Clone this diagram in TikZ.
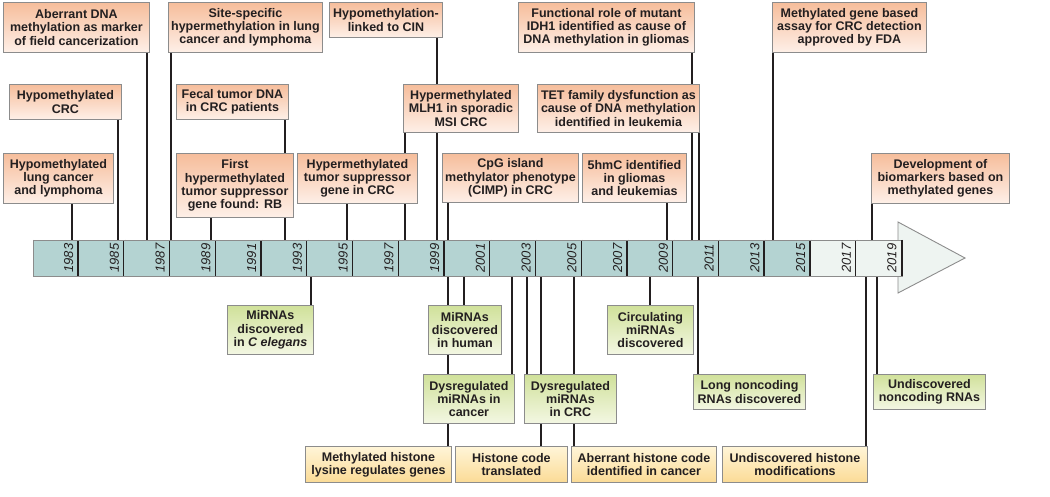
\documentclass[tikz,border=0pt]{standalone}
\usepackage{fontspec}
\setmainfont{Liberation Sans}
\usetikzlibrary{backgrounds}

\definecolor{boxline}{HTML}{8C8C8C}
\definecolor{orangetop}{HTML}{F6BD9B}
\definecolor{orangebot}{HTML}{FEF0E8}
\definecolor{greentop}{HTML}{D0E19A}
\definecolor{greenbot}{HTML}{F3F7E3}
\definecolor{yellowtop}{HTML}{FFF5D8}
\definecolor{yellowbot}{HTML}{FBDB96}
\definecolor{barteal}{HTML}{B4D3D2}
\definecolor{barlight}{HTML}{EEF4F1}
\definecolor{ink}{HTML}{231F20}

\tikzset{
  box/.style={draw=boxline, line width=0.9pt, anchor=north west, align=center, text=ink,
    inner xsep=1pt, inner ysep=1pt, font=\fontsize{12.5}{13.2}\selectfont\bfseries},
  topbox/.style={box, top color=orangetop, bottom color=orangebot},
  mirbox/.style={box, top color=greentop, bottom color=greenbot},
  histbox/.style={box, top color=yellowtop, bottom color=yellowbot},
  link/.style={line width=1.8pt, ink},
  yearlbl/.style={rotate=90, text=ink, font=\fontsize{13}{13}\selectfont\itshape, inner sep=0pt}
}

\begin{document}
\begin{tikzpicture}[x=1pt, y=-1pt]
	\useasboundingbox (0,0) rectangle (1050,497);
	% arrow head and bar
	\draw[boxline, fill=barlight, line width=0.9pt] (898,222) -- (965,258) -- (898,293) -- cycle;
	\node[draw=boxline, line width=0.9pt, minimum width=869pt, minimum height=36pt, anchor=north west, inner sep=0pt] (bar) at (33,240) {};
	\foreach \i in {0,...,18} {
	  \pgfmathsetmacro\xa{33+\i*45.737}
	  \pgfmathsetmacro\xb{33+(\i+1)*45.737}
	  \pgfmathtruncatemacro\yr{1983+2*\i}
	  \ifnum\i<17 \def\segcol{barteal}\else\def\segcol{barlight}\fi
	  \fill[\segcol] (\xa,240) rectangle (\xb,276);
	  \draw[line width=2.6pt, ink] (\xb,240) -- (\xb,276);
	  \node[yearlbl] (y\yr) at (\xb-10,258) {\yr};
	}
	\draw[boxline, line width=0.9pt] (33,240) -- (900.7,240) (33,276) -- (900.7,276) (33,240) -- (33,276);

	% events above the time line
	\node[topbox, minimum width=146pt, minimum height=50pt] (abr) at (3,2) {Aberrant DNA\\methylation as marker\\of field cancerization};
	\node[topbox, minimum width=112pt, minimum height=35pt] (hypocrc) at (9,84) {Hypomethylated\\CRC};
	\node[topbox, minimum width=110pt, minimum height=50pt] (hypolung) at (3,153) {Hypomethylated\\lung cancer\\and lymphoma};
	\node[topbox, minimum width=154pt, minimum height=50pt] (sitespec) at (168,2) {Site-specific\\hypermethylation in lung\\cancer and lymphoma};
	\node[topbox, minimum width=112pt, minimum height=35pt] (fecal) at (176,84) {Fecal tumor DNA\\in CRC patients};
	\node[topbox, minimum width=117pt, minimum height=64pt] (firstrb) at (176,153) {First\\hypermethylated\\tumor suppressor\\gene found: RB};
	\node[topbox, minimum width=120pt, minimum height=50pt] (tsgcrc) at (297,153) {Hypermethylated\\tumor suppressor\\gene in CRC};
	\node[topbox, minimum width=113pt, minimum height=35pt] (cin) at (329,2) {Hypomethylation-\\linked to CIN};
	\node[topbox, minimum width=115pt, minimum height=48pt] (mlh1) at (403,84) {Hypermethylated\\MLH1 in sporadic\\MSI CRC};
	\node[topbox, minimum width=136pt, minimum height=49pt] (cimp) at (442,153) {CpG island\\methylator phenotype\\(CIMP) in CRC};
	\node[topbox, minimum width=104pt, minimum height=49pt] (shmc) at (582,153) {5hmC identified\\in gliomas\\and leukemias};
	\node[topbox, minimum width=176pt, minimum height=50pt] (idh1) at (518,2) {Functional role of mutant\\IDH1 identified as cause of\\DNA methylation in gliomas};
	\node[topbox, minimum width=162pt, minimum height=48pt] (tet) at (537,84) {TET family dysfunction as\\cause of DNA methylation\\identified in leukemia};
	\node[topbox, minimum width=154pt, minimum height=50pt] (fda) at (772,2) {Methylated gene based\\assay for CRC detection\\approved by FDA};
	\node[topbox, minimum width=138pt, minimum height=50pt] (biom) at (871,153) {Development of\\biomarkers based on\\methylated genes};

	% events below the time line
	\node[mirbox, minimum width=86pt, minimum height=49pt] (celeg) at (227,305) {MiRNAs\\discovered\\in \textit{C elegans}};
	\node[mirbox, minimum width=73pt, minimum height=49pt] (mihum) at (428,305) {MiRNAs\\discovered\\in human};
	\node[mirbox, minimum width=91pt, minimum height=49pt] (dyscan) at (423,374) {Dysregulated\\miRNAs in\\cancer};
	\node[mirbox, minimum width=92pt, minimum height=49pt] (dyscrc) at (524,374) {Dysregulated\\miRNAs\\in CRC};
	\node[mirbox, minimum width=86pt, minimum height=49pt] (circ) at (607,305) {Circulating\\miRNAs\\discovered};
	\node[mirbox, minimum width=112pt, minimum height=35pt] (lnc) at (693,374) {Long noncoding\\RNAs discovered};
	\node[mirbox, minimum width=112pt, minimum height=35pt] (undnc) at (873,374) {Undiscovered\\noncoding RNAs};
	\node[histbox, minimum width=146pt, minimum height=36pt] (histlys) at (305,446) {Methylated histone\\lysine regulates genes};
	\node[histbox, minimum width=112pt, minimum height=36pt] (histcode) at (455,446) {Histone code\\translated};
	\node[histbox, minimum width=145pt, minimum height=36pt] (aberhist) at (571,446) {Aberrant histone code\\identified in cancer};
	\node[histbox, minimum width=145pt, minimum height=36pt] (undhist) at (722,446) {Undiscovered histone\\modifications};

	% connectors
	\begin{scope}[on background layer]
	  \foreach \x/\b in {147/abr, 118/hypocrc, 72/hypolung, 171/sitespec, 285/fecal, 211/firstrb,
	      347/tsgcrc, 437/cin, 405/mlh1, 448/cimp, 667/shmc, 692/idh1, 699/tet, 773/fda, 872/biom}
	    \draw[link] (\x,0 |- \b.south) -- (\x,0 |- bar.north);
	  \foreach \x/\b in {311/celeg, 464/mihum, 512/dyscan, 527/dyscrc, 650/circ, 698/lnc, 877/undnc,
	      448/histlys, 541/histcode, 574/aberhist, 866/undhist}
	    \draw[link] (\x,0 |- \b.north) -- (\x,0 |- bar.south);
	\end{scope}
\end{tikzpicture}
\end{document}
